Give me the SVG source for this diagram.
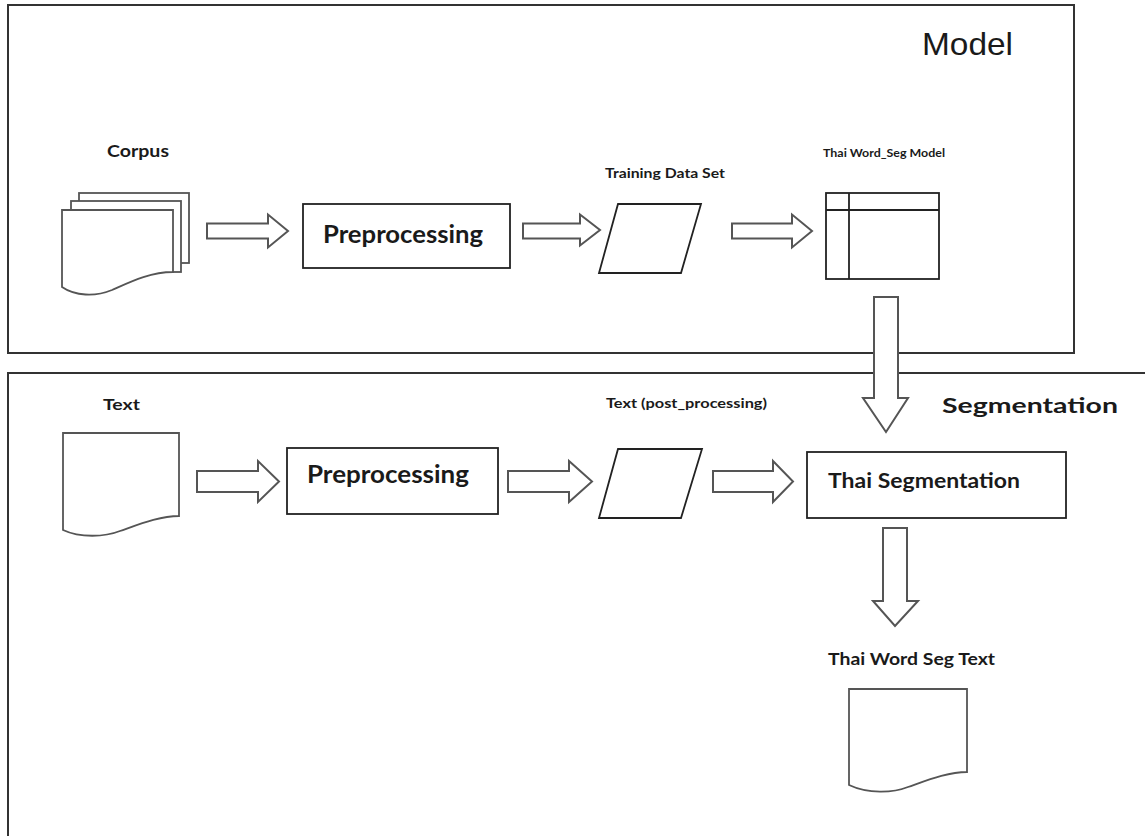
<svg xmlns="http://www.w3.org/2000/svg" width="1145" height="836" viewBox="0 0 1145 836">
<style>
.frame{fill:none;stroke:#333;stroke-width:2}
.box{fill:#fff;stroke:#222;stroke-width:1.8}
.doc{fill:#fff;stroke:#555;stroke-width:1.8}
.arr{fill:#fff;stroke:#555;stroke-width:2;stroke-linejoin:miter}
.lbl{font-family:Lato,"Open Sans","Liberation Sans",sans-serif;font-weight:bold;fill:#1a1a1a;text-anchor:start}
.title{font-family:"Liberation Sans",Arial,sans-serif;fill:#1a1a1a}
</style>
<rect width="1145" height="836" fill="#fff"/>
<g id="frame-model">
<rect class="frame" x="8" y="5" width="1066" height="348"/>
<text class="title" x="922" y="55" font-size="32" textLength="91" lengthAdjust="spacingAndGlyphs">Model</text>
</g>
<g id="frame-segmentation">
<path class="frame" d="M8,836 V373 H1145"/>
<text class="lbl" x="942" y="413" font-size="21" textLength="176" lengthAdjust="spacingAndGlyphs">Segmentation</text>
</g>
<g id="corpus">
<text class="lbl" x="107" y="157" font-size="17" textLength="62" lengthAdjust="spacingAndGlyphs">Corpus</text>
<rect class="doc" x="79" y="193" width="110" height="70"/>
<rect class="doc" x="71" y="201" width="110" height="71"/>
<path class="doc" d="M62,210 H173 V272 C150,272 130,282 112,290 C95,297 75,296 62,287 Z"/>
</g>
<g id="preprocessing-model">
<rect class="box" x="303" y="204" width="207" height="64"/>
<text class="lbl" x="323" y="243" font-size="24" textLength="160" lengthAdjust="spacingAndGlyphs">Preprocessing</text>
</g>
<g id="training-data">
<text class="lbl" x="605" y="178" font-size="13" textLength="120" lengthAdjust="spacingAndGlyphs">Training  Data Set</text>
<polygon class="box" points="618,204 701,204 681,273 599,273"/>
</g>
<g id="model-table">
<text class="lbl" x="823" y="157" font-size="12" textLength="122" lengthAdjust="spacingAndGlyphs">Thai Word_Seg Model</text>
<rect class="box" x="826" y="193" width="113" height="86"/>
<line class="box" x1="849" y1="193" x2="849" y2="279"/>
<line class="box" x1="826" y1="210" x2="939" y2="210"/>
</g>
<g id="text-input">
<text class="lbl" x="103" y="410" font-size="15" textLength="37" lengthAdjust="spacingAndGlyphs">Text</text>
<path class="doc" d="M63,433 H179 V516 C160,516 140,524 120,531 C105,537 80,538 63,530 Z"/>
</g>
<g id="preprocessing-seg">
<rect class="box" x="287" y="448" width="211" height="66"/>
<text class="lbl" x="307" y="483" font-size="24" textLength="162" lengthAdjust="spacingAndGlyphs">Preprocessing</text>
</g>
<g id="text-post">
<text class="lbl" x="606" y="408" font-size="13" textLength="161" lengthAdjust="spacingAndGlyphs">Text (post_processing)</text>
<polygon class="box" points="618,449 702,449 681,518 599,518"/>
</g>
<g id="thai-segmentation">
<rect class="box" x="807" y="452" width="259" height="66"/>
<text class="lbl" x="828" y="488" font-size="20" textLength="192" lengthAdjust="spacingAndGlyphs">Thai Segmentation</text>
</g>
<g id="output-text">
<text class="lbl" x="828" y="665" font-size="17" textLength="167" lengthAdjust="spacingAndGlyphs">Thai Word Seg Text</text>
<path class="doc" d="M849,689 H967 V772 C948,772 928,780 908,787 C893,793 868,794 849,785 Z"/>
</g>
<g id="connectors">
<polygon class="arr" points="207,223.5 268,223.5 268,214.5 288,231 268,247.5 268,238.5 207,238.5"/>
<polygon class="arr" points="523,223.5 580,223.5 580,214.5 600,230 580,245.5 580,238.5 523,238.5"/>
<polygon class="arr" points="732,223.5 792,223.5 792,214.5 812,231 792,247.5 792,238.5 732,238.5"/>
<polygon class="arr" points="874,297 898,297 898,398 908,398 886,432 863,398 874,398"/>
<polygon class="arr" points="197,471 258,471 258,461 279,481.5 258,502 258,492 197,492"/>
<polygon class="arr" points="508,471 569,471 569,461 592,481.5 569,502 569,492 508,492"/>
<polygon class="arr" points="713,471 773,471 773,461 793,481.5 773,502 773,492 713,492"/>
<polygon class="arr" points="883,528 907,528 907,601 918,601 895,626 873,601 883,601"/>
</g>
</svg>
